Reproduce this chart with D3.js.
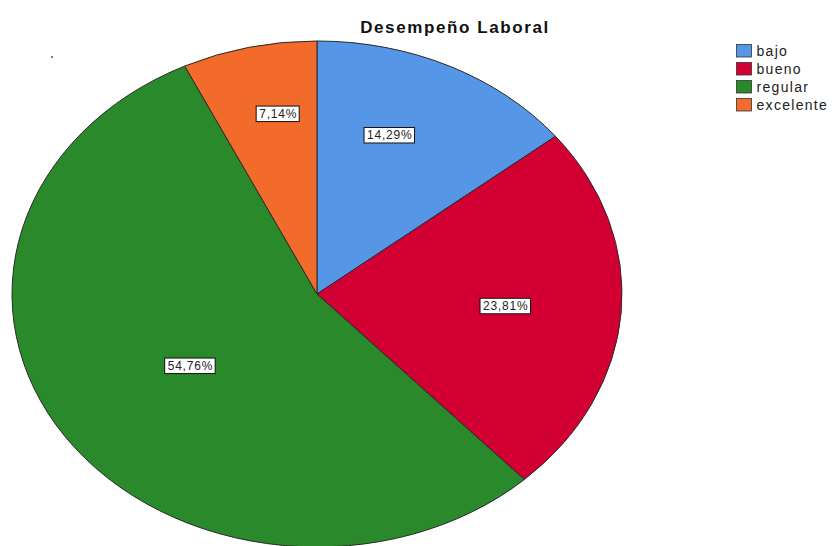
<!DOCTYPE html>
<html><head><meta charset="utf-8">
<script src="https://cdn.jsdelivr.net/npm/d3@7"></script>
<style>body{margin:0;background:#fff;} svg{display:block;font-family:"Liberation Sans",Arial,sans-serif;}</style>
</head><body>
<svg id="c" width="833" height="546"></svg>
<script>
const categories = ["bajo", "bueno", "regular", "excelente"];
const values = [14.29, 23.81, 54.76, 7.14];
const labels = ["14,29%", "23,81%", "54,76%", "7,14%"];
const colors = ["#5597e6", "#d20032", "#29892b", "#f26b2b"];
const title = "Desempeño Laboral";

const svg = d3.select("#c");
const cx = 317, cy = 294, rx = 305, ry = 253;
const sx = rx / ry;

const data = categories.map((c, i) => ({cat: c, v: values[i], label: labels[i], color: colors[i]}));
const pie = d3.pie().sort(null).value(d => d.v);
const arcs = pie(data);
const arc = d3.arc().innerRadius(0).outerRadius(ry);

const g = svg.append("g").attr("transform", `translate(${cx},${cy}) scale(${sx},1)`);
g.selectAll("path").data(arcs).join("path")
  .attr("d", arc)
  .attr("fill", d => d.data.color)
  .attr("stroke", "#2a2a2a")
  .attr("stroke-width", 1)
  .attr("vector-effect", "non-scaling-stroke");

// labels
const total = d3.sum(values);
const lg = svg.append("g");
arcs.forEach(a => {
  const f = a.data.v / total;
  const rr = 0.85 - 0.47 * Math.sqrt(f);
  let mid = (a.startAngle + a.endAngle) / 2;
  // slight pull of labels in the upper half toward the top of the pie
  mid = mid - 0.22 * Math.sin(mid) * Math.max(0, Math.cos(mid));
  const x = cx + rx * rr * Math.sin(mid);
  const y = cy - ry * rr * Math.cos(mid);
  const t = lg.append("text").attr("x", x).attr("y", y + 0.5)
    .attr("text-anchor", "middle").attr("dominant-baseline", "central")
    .attr("font-size", 12).attr("letter-spacing", 0.8).attr("fill", "#222").text(a.data.label);
  const bb = t.node().getBBox();
  lg.insert("rect", "text").attr("x", bb.x - 3).attr("y", y - 7.5)
    .attr("width", bb.width + 5).attr("height", 15.5)
    .attr("fill", "#fff").attr("stroke", "#111").attr("stroke-width", 1);
});

svg.append("text").attr("x", 455).attr("y", 33).attr("text-anchor", "middle")
  .attr("font-size", 17).attr("letter-spacing", 1.6).attr("font-weight", "bold").attr("fill", "#111").text(title);

// legend
const leg = svg.append("g").attr("transform", "translate(736.5,44.5)");
categories.forEach((c, i) => {
  const row = leg.append("g").attr("transform", `translate(0,${i * 18})`);
  row.append("rect").attr("x", 0).attr("y", 0).attr("width", 15).attr("height", 12.5)
    .attr("fill", colors[i]).attr("stroke", "#333").attr("stroke-width", 0.8);
  row.append("text").attr("x", 20).attr("y", 6.5).attr("dominant-baseline", "central")
    .attr("font-size", 14).attr("letter-spacing", 1.3).attr("fill", "#222").text(c);
});

// small stray dot in the original
svg.append("circle").attr("cx", 52).attr("cy", 57).attr("r", 1).attr("fill", "#555");
</script>
</body></html>
